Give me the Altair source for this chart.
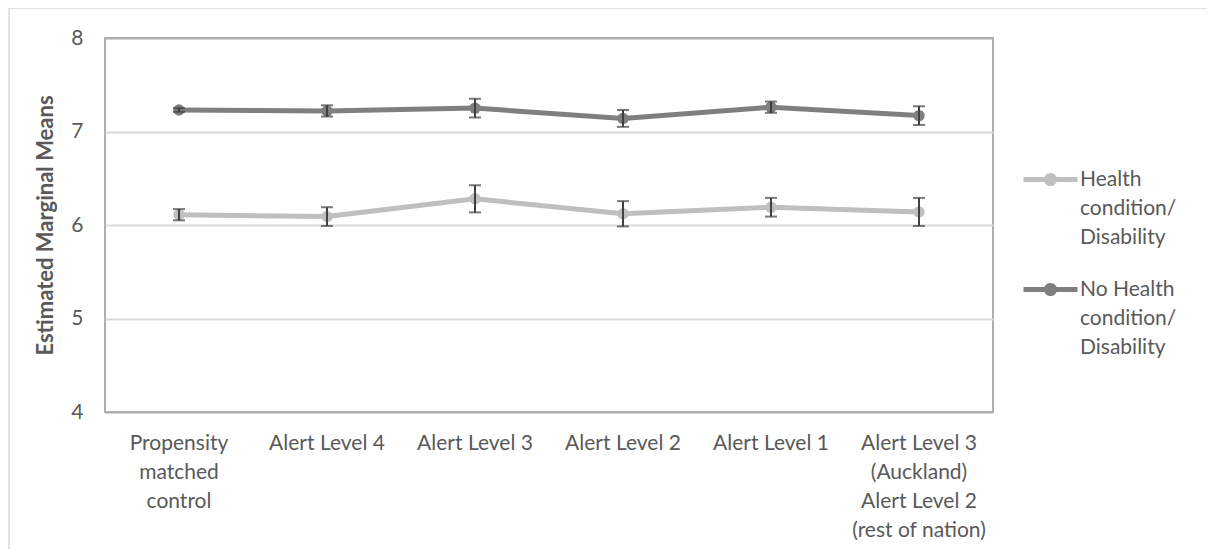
import json
import altair as alt
import pandas as pd

# ---------------- data ----------------
categories = [
    "Propensity matched control",
    "Alert Level 4",
    "Alert Level 3",
    "Alert Level 2",
    "Alert Level 1",
    "Alert Level 3 (Auckland) Alert Level 2 (rest of nation)",
]
category_lines = [
    ["Propensity", "matched", "control"],
    ["Alert Level 4"],
    ["Alert Level 3"],
    ["Alert Level 2"],
    ["Alert Level 1"],
    ["Alert Level 3", "(Auckland)", "Alert Level 2", "(rest of nation)"],
]
series_names = ["Health condition/ Disability", "No Health condition/ Disability"]
series_lines = [["Health", "condition/", "Disability"], ["No Health", "condition/", "Disability"]]
series_colors = ["#bfbfbf", "#7f7f7f"]

health_means = [6.11, 6.09, 6.28, 6.12, 6.19, 6.14]
health_err = [0.06, 0.10, 0.145, 0.135, 0.10, 0.15]
nohealth_means = [7.23, 7.22, 7.25, 7.14, 7.26, 7.17]
nohealth_err = [0.02, 0.06, 0.10, 0.09, 0.06, 0.10]

y_ticks = [4, 5, 6, 7, 8]

rows = []
for name, means, errs in [
    (series_names[0], health_means, health_err),
    (series_names[1], nohealth_means, nohealth_err),
]:
    for c, m, e in zip(categories, means, errs):
        rows.append({"series": name, "cat": c, "mean": m, "lo": m - e, "hi": m + e})
df = pd.DataFrame(rows)


def lines_expr(keys, lines):
    expr = "datum.label"
    for k, l in reversed(list(zip(keys, lines))):
        expr = f"datum.label === {json.dumps(k)} ? {json.dumps(l)} : ({expr})"
    return expr


TEXT = "#595959"
FONT = "Lato"
ERR = "#404040"
FS = 21

# legend symbol: line with a filled dot
sym_path = (
    "M-1,0L1,0"
    "M-0.15,0A0.15,0.15,0,1,0,0.15,0A0.15,0.15,0,1,0,-0.15,0"
    "M-0.06,0A0.06,0.06,0,1,0,0.06,0A0.06,0.06,0,1,0,-0.06,0"
)

x_enc = alt.X(
    "cat:N",
    sort=categories,
    axis=alt.Axis(
        title=None,
        labelAngle=0,
        ticks=False,
        domain=False,
        grid=False,
        labelPadding=20,
        labelFontSize=FS,
        labelColor=TEXT,
        labelFont=FONT,
        labelLineHeight=29,
        labelLimit=250,
        labelExpr=lines_expr(categories, category_lines),
    ),
)
y_scale = alt.Scale(domain=[4, 8], nice=False, zero=False)
y_enc = alt.Y(
    "mean:Q",
    scale=y_scale,
    axis=alt.Axis(
        values=y_ticks,
        format="d",
        title="Estimated Marginal Means",
        titleFontWeight="bold",
        titleFontSize=22,
        titleColor=TEXT,
        titleFont=FONT,
        titlePadding=13,
        labelFontSize=FS,
        labelColor=TEXT,
        labelFont=FONT,
        labelPadding=22,
        ticks=False,
        domain=False,
        gridColor=alt.condition(
            "datum.value == 4 || datum.value == 8",
            alt.value("#afafaf"),
            alt.value("#d9d9d9"),
        ),
        gridWidth=2,
    ),
)
color_scale = alt.Scale(domain=series_names, range=series_colors)

base = alt.Chart(df)

lines = base.mark_line(strokeWidth=5).encode(
    x=x_enc,
    y=y_enc,
    color=alt.Color(
        "series:N",
        scale=color_scale,
        legend=alt.Legend(
            orient="none",
            legendX=916,
            legendY=112,
            title=None,
            padding=0,
            symbolType=sym_path,
            symbolSize=2916,
            symbolStrokeWidth=5,
            labelExpr=lines_expr(series_names, series_lines),
            labelFontSize=FS,
            labelColor=TEXT,
            labelFont=FONT,
            labelOffset=0,
            labelLimit=250,
            rowPadding=12,
        ),
    ),
    detail="series:N",
)
points = base.mark_circle(size=130, opacity=1).encode(
    x=x_enc,
    y=y_enc,
    color=alt.Color("series:N", scale=color_scale, legend=None),
)
rules = base.mark_rule(color=ERR, strokeWidth=2).encode(
    x=x_enc, y=alt.Y("lo:Q", scale=y_scale), y2="hi:Q"
)
caps_lo = base.mark_tick(color=ERR, size=12, thickness=2).encode(
    x=x_enc, y=alt.Y("lo:Q", scale=y_scale)
)
caps_hi = base.mark_tick(color=ERR, size=12, thickness=2).encode(
    x=x_enc, y=alt.Y("hi:Q", scale=y_scale)
)

frame = alt.Chart(pd.DataFrame({"f": [0]})).mark_rect(
    fill="transparent", stroke="#d9d9d9", strokeWidth=1.5
).encode(
    x=alt.value(-96), x2=alt.value(1300), y=alt.value(-30), y2=alt.value(800)
)

chart = (
    alt.layer(lines, points, rules, caps_lo, caps_hi, frame)
    .properties(
        width=888,
        height=374,
        autosize=alt.AutoSizeParams(type="none"),
        padding={"left": 97, "top": 30, "right": 214, "bottom": 137},
        background="white",
    )
    .configure(font=FONT, style={"guide-label": {"lineHeight": 29}})
    .configure_view(stroke="#afafaf", strokeWidth=2)
)

chart.save("out.html", embed_options={"renderer": "svg", "actions": False})
